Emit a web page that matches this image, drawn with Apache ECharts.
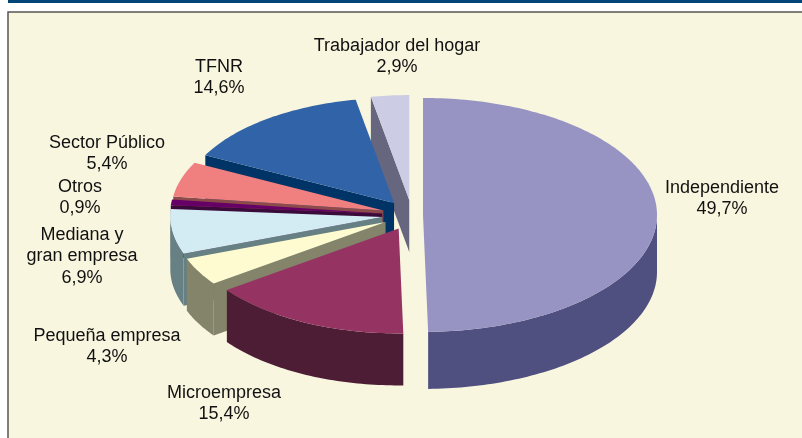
<!DOCTYPE html>
<html>
<head>
<meta charset="utf-8">
<style>
html,body{margin:0;padding:0;background:#fff;}
#chart{width:802px;height:438px;}
</style>
<script src="https://cdn.jsdelivr.net/npm/echarts@6/dist/echarts.min.js"></script>
</head>
<body>
<div id="chart"></div>
<script>
var categories = ['Independiente','Microempresa','Pequeña empresa','Mediana y\ngran empresa','Otros','Sector Público','TFNR','Trabajador del hogar'];
var values = [49.7,15.4,4.3,6.9,0.9,5.4,14.6,2.9];

// styles per slice
var topColors = ['#9794c4','#953363','#fffbd0','#d3ecf4','#660066','#f08080','#3163a8','#ccccE4'];
var sideColors = ['#4f4f80','#4d1d36','#84846a','#668083','#3a0a3a','#8c4a4a','#003366','#66667f'];
var explode = [11,30,30,30,30,30,30,30];
var radiusX = [234,212,212,212,212,212,212,212];
var radiusY = [117,105,105,105,105,105,105,105];
var depth = [57,52,52,52,52,52,52,52];
var drawOrder = [8,7,6,5,4,3,2,1]; // back to front
var labelPos = [[722,188],[224,393],[107,336],[82,235],[80,187],[107,143],[219,67],[397,46]];

var centerX = 412, centerY = 215;
var total = values.reduce(function(a,b){return a+b;},0);

function rad(v){ return v/total*Math.PI*2; }
function pt(cx,cy,rx,ry,a,dy){ return [cx+Math.sin(a)*rx, cy-Math.cos(a)*ry+dy]; }

function renderSlice(params, api){
    var i = api.value(0);
    var a0 = 0;
    for(var k=0;k<i;k++) a0 += rad(values[k]);
    var a1 = a0 + rad(api.value(1));
    var mid = (a0+a1)/2;
    var cx = centerX + Math.sin(mid)*explode[i];
    var cy = centerY - Math.cos(mid)*explode[i]/2;
    var rx = radiusX[i], ry = radiusY[i], d = depth[i];
    var z = drawOrder[i]*10;
    var kids = [];

    // top face points
    var topPts = [[cx,cy]];
    var steps = Math.max(4,Math.ceil((a1-a0)/0.02));
    for(var s=0;s<=steps;s++) topPts.push(pt(cx,cy,rx,ry,a0+(a1-a0)*s/steps,0));

    // radial wall on the start edge
    if(Math.sin(a0) < 0){
        var p = pt(cx,cy,rx,ry,a0,0);
        kids.push({type:'polygon',z2:z,shape:{points:[[cx,cy],p,[p[0],p[1]+d],[cx,cy+d]]},style:{fill:sideColors[i]}});
    }
    // outer wall, only the part facing front
    var wall = [], back = [];
    for(var s=0;s<=steps;s++){
        var a = a0+(a1-a0)*s/steps;
        if(Math.cos(a) <= 0){
            wall.push(pt(cx,cy,rx,ry,a,0));
            back.unshift(pt(cx,cy,rx,ry,a,d));
        }
    }
    if(wall.length>1){
        kids.push({type:'polygon',z2:z+1,shape:{points:wall.concat(back)},style:{fill:sideColors[i]}});
    }
    kids.push({type:'polygon',z2:z+2,shape:{points:topPts},style:{fill:topColors[i]}});
    return {type:'group',children:kids};
}

var labels = categories.map(function(name,i){
    return {
        type:'text',
        x:labelPos[i][0],
        y:labelPos[i][1]-11,
        z:10,
        style:{
            text:name+'\n'+values[i].toFixed(1).replace('.',',')+'%',
            fill:'#111111',
            font:'18px "Liberation Sans", Arial, sans-serif',
            align:'center',
            verticalAlign:'top',
            lineHeight:21.5
        }
    };
});

var mychart = echarts.init(document.getElementById('chart'));
var option = {
    animation:false,
    backgroundColor:'#ffffff',
    graphic:[
        {type:'rect',z:0,shape:{x:8,y:0,width:794,height:3},style:{fill:'#004578'}},
        {type:'rect',z:0,shape:{x:8,y:12,width:800,height:432},style:{fill:'#f9f6df',stroke:'#555555',lineWidth:1.5}}
    ].concat(labels),
    series:[{
        type:'custom',
        coordinateSystem:'none',
        silent:true,
        z:5,
        renderItem:renderSlice,
        data:values.map(function(v,i){ return [i,v]; })
    }]
};
mychart.setOption(option);
</script>
</body>
</html>
